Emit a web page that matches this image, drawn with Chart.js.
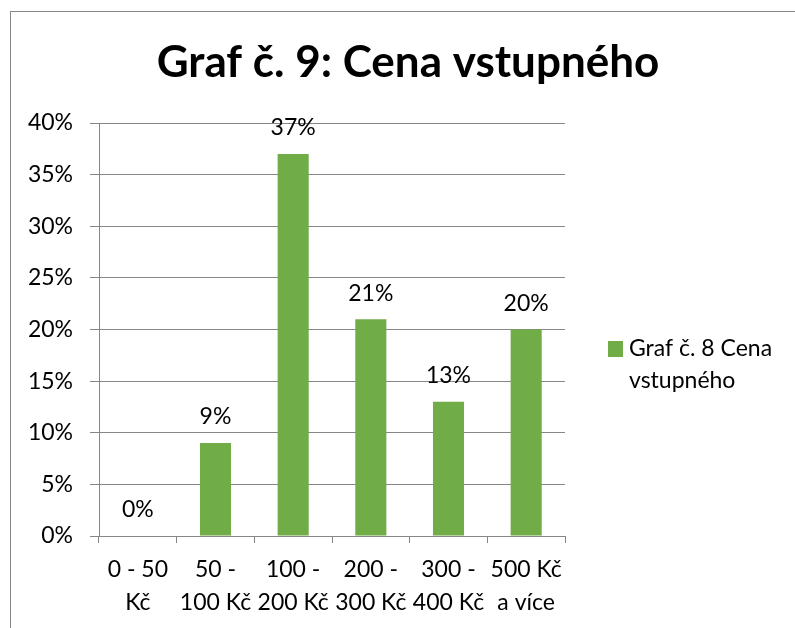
<!DOCTYPE html>
<html>
<head>
<meta charset="utf-8">
<script src="https://cdn.jsdelivr.net/npm/chart.js@4.4.1/dist/chart.umd.min.js"></script>
<style>
  html, body { margin: 0; padding: 0; background: #ffffff; }
  #frame { position: absolute; left: 10px; top: 11px; width: 820px; height: 700px; border: 1px solid #878787; box-sizing: border-box; }
  #wrap { position: absolute; left: 0; top: 0; width: 795px; height: 628px; }
</style>
</head>
<body>
<div id="frame"></div>
<div id="wrap"><canvas id="c" width="795" height="628"></canvas></div>
<script>
const categories = [["0 - 50", "Kč"], ["50 -", "100 Kč"], ["100 -", "200 Kč"], ["200 -", "300 Kč"], ["300 -", "400 Kč"], ["500 Kč", "a více"]];
const seriesName = "Graf č. 8 Cena vstupného";
const legendLines = ["Graf č. 8 Cena", "vstupného"];
const values = [0, 9, 37, 21, 13, 20];
const titleText = "Graf č. 9: Cena vstupného";
const yTicks = { min: 0, max: 40, step: 5 };

const FONT = "Lato";
const GRID = "#868686";
const GREEN = "#70AD47";

const valueLabels = {
  id: "valueLabels",
  afterDatasetsDraw(chart) {
    const ctx = chart.ctx;
    const meta = chart.getDatasetMeta(0);
    ctx.save();
    ctx.font = "23px " + FONT;
    ctx.fillStyle = "#000";
    ctx.textAlign = "center";
    ctx.textBaseline = "middle";
    meta.data.forEach((bar, i) => {
      ctx.fillText(values[i] + "%", bar.x, bar.y - 26);
    });
    ctx.restore();
  }
};

const sideLegend = {
  id: "sideLegend",
  afterDraw(chart) {
    const ctx = chart.ctx;
    const ds = chart.data.datasets[0];
    const x0 = chart.chartArea.right + 43;
    ctx.save();
    ctx.fillStyle = ds.backgroundColor;
    ctx.fillRect(x0, 341, 15, 16);
    ctx.font = "23px " + FONT;
    ctx.fillStyle = "#000";
    ctx.textAlign = "left";
    ctx.textBaseline = "middle";
    legendLines.forEach((l, i) => ctx.fillText(l, x0 + 21, 349 + i * 32));
    ctx.restore();
  }
};

new Chart(document.getElementById("c"), {
  type: "bar",
  data: {
    labels: categories,
    datasets: [{
      label: seriesName,
      data: values,
      backgroundColor: GREEN,
      borderWidth: 0,
      categoryPercentage: 1.0,
      barPercentage: 0.4
    }]
  },
  options: {
    responsive: false,
    animation: false,
    layout: { padding: { left: 21, right: 0, top: 0, bottom: 0 } },
    plugins: {
      legend: { display: false },
      tooltip: { enabled: false },
      title: {
        display: true,
        text: titleText,
        color: "#000",
        font: { family: FONT, size: 44, weight: "bold", lineHeight: "60px" },
        padding: { top: 33, bottom: 30 }
      }
    },
    scales: {
      x: {
        offset: true,
        grid: { display: true, drawOnChartArea: false, drawTicks: true, tickLength: 7, color: GRID, offset: true },
        border: { display: true, color: GRID },
        ticks: { color: "#000", font: { family: FONT, size: 23, lineHeight: "33px" }, padding: 10, maxRotation: 0, autoSkip: false },
        afterFit(s) { s.height = 92; }
      },
      y: {
        min: yTicks.min,
        max: yTicks.max,
        grid: { color: GRID, tickLength: 9, drawTicks: true },
        border: { display: true, color: GRID },
        ticks: { stepSize: yTicks.step, color: "#000", font: { family: FONT, size: 23 }, padding: 17, callback: v => v + "%" },
        afterFit(s) { s.width = 78; }
      },
      legendSpace: {
        type: "linear",
        position: "right",
        display: true,
        grid: { display: false, drawTicks: false },
        border: { display: false },
        ticks: { display: false },
        afterFit(s) { s.width = 230; }
      }
    }
  },
  plugins: [valueLabels, sideLegend]
});
</script>
</body>
</html>
